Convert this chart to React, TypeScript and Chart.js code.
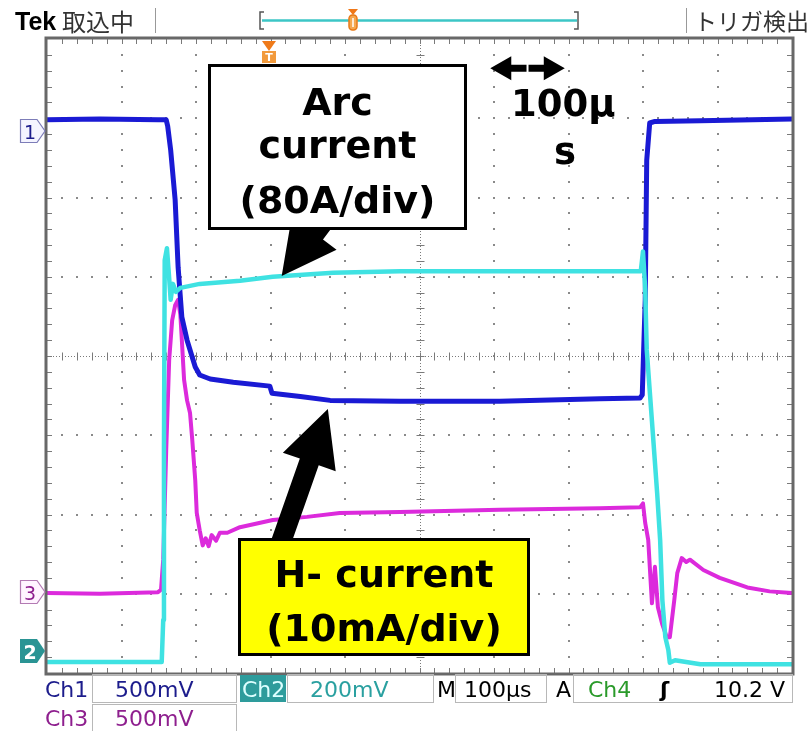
import React, { useEffect, useRef } from "react";
import { Chart, registerables } from "chart.js";

Chart.register(...registerables);

// Time axis: µs from the left edge of the screen (10 div × 100 µs/div).
// Values: vertical divisions from the screen centre (8 div high).

// Ch1 (blue)
const ch1Time = [0, 71, 149, 160, 162, 166, 172, 176, 181, 188, 199, 205, 219, 250, 299, 302, 340, 380, 474, 608, 742, 796, 799, 803, 805, 809, 816, 877, 1000];
const ch1Div = [2.98, 2.99, 2.98, 2.98, 2.9, 2.6, 1.97, 1.12, 0.49, 0.2, -0.14, -0.24, -0.29, -0.33, -0.38, -0.47, -0.51, -0.56, -0.57, -0.57, -0.54, -0.53, -0.49, 0.71, 2.47, 2.94, 2.96, 2.97, 2.99];

// Ch2 (cyan) – arc current
const ch2Time = [0, 154, 156, 157, 158, 161, 164, 166, 169, 173, 179, 205, 259, 303, 384, 474, 608, 742, 797, 800, 803, 805, 812, 819, 823, 826, 830, 834, 836, 843, 877, 1000];
const ch2Div = [-3.86, -3.86, -3.33, -1.19, 1.21, 1.36, 0.98, 0.71, 0.91, 0.81, 0.86, 0.91, 0.95, 1.0, 1.05, 1.07, 1.07, 1.07, 1.07, 1.32, 0.83, 0.08, -0.82, -1.73, -2.32, -3.08, -3.55, -3.71, -3.87, -3.84, -3.89, -3.89];

// Ch3 (magenta) – H- current
const ch3Time = [0, 71, 149, 153, 156, 160, 164, 168, 172, 176, 179, 181, 184, 188, 192, 195, 199, 201, 205, 209, 213, 217, 221, 227, 232, 242, 259, 303, 349, 393, 474, 608, 742, 796, 800, 803, 807, 812, 816, 820, 826, 832, 836, 842, 846, 852, 858, 863, 881, 903, 940, 970, 1000];
const ch3Div = [-2.99, -3.0, -2.98, -2.95, -2.57, -1.19, -0.05, 0.45, 0.64, 0.71, 0.52, 0.2, -0.3, -0.56, -0.72, -1.06, -1.57, -1.98, -2.2, -2.39, -2.3, -2.4, -2.26, -2.33, -2.23, -2.23, -2.16, -2.07, -2.03, -1.98, -1.97, -1.94, -1.92, -1.91, -1.86, -2.11, -2.32, -3.12, -2.66, -3.17, -3.39, -3.55, -3.55, -3.08, -2.74, -2.55, -2.6, -2.57, -2.7, -2.8, -2.92, -2.97, -2.99];

// Screen extent
const timeRangeUs = [0, 1000];
const divRange = [-4, 4];

// Annotation anchors (µs, div)
const arcArrowTail = [372, 1.72];
const arcArrowTip = [315, 1.01];
const hArrowTail = [313, -2.38];
const hArrowTip = [377, -0.67];
const scaleBarUs = [595, 695];
const scaleBarDiv = 3.63;

const pts = (t: number[], v: number[]) => t.map((x, i) => ({ x, y: v[i] }));

function arrow(ctx: CanvasRenderingContext2D, x0: number, y0: number, x1: number, y1: number, shaftW: number, headL: number, headHW: number) {
  const dx = x1 - x0, dy = y1 - y0, len = Math.hypot(dx, dy);
  const ux = dx / len, uy = dy / len, px = -uy, py = ux;
  const bx = x1 - ux * headL, by = y1 - uy * headL;
  ctx.beginPath();
  ctx.moveTo(x0 + px * shaftW / 2, y0 + py * shaftW / 2);
  ctx.lineTo(bx + px * shaftW / 2, by + py * shaftW / 2);
  ctx.lineTo(bx + px * headHW, by + py * headHW);
  ctx.lineTo(x1, y1);
  ctx.lineTo(bx - px * headHW, by - py * headHW);
  ctx.lineTo(bx - px * shaftW / 2, by - py * shaftW / 2);
  ctx.lineTo(x0 - px * shaftW / 2, y0 - py * shaftW / 2);
  ctx.closePath();
  ctx.fill();
}

const scopePlugin = {
  id: "scope",
  beforeDatasetsDraw(chart: any) {
    const { ctx, chartArea: a, scales } = chart;
    const xs = scales.x, ys = scales.y;
    ctx.save();
    ctx.fillStyle = "#8a8a8a";
    for (let i = 1; i < 10; i++) {
      if (i === 5) continue;
      const px = Math.round(xs.getPixelForValue(i * 100));
      for (let k = 1; k < 40; k++) {
        const py = Math.round(ys.getPixelForValue(-4 + k * 0.2));
        ctx.fillRect(px - 1, py - 1, 2, 2);
      }
    }
    for (let j = -3; j <= 3; j++) {
      if (j === 0) continue;
      const py = Math.round(ys.getPixelForValue(j));
      for (let k = 1; k < 50; k++) {
        const px = Math.round(xs.getPixelForValue(k * 20));
        ctx.fillRect(px - 1, py - 1, 2, 2);
      }
    }
    const cx = Math.round(xs.getPixelForValue(500)) + 0.5;
    const cy = Math.round(ys.getPixelForValue(0)) + 0.5;
    ctx.strokeStyle = "#7a7a7a";
    ctx.lineWidth = 1;
    ctx.setLineDash([1, 2]);
    ctx.beginPath();
    ctx.moveTo(a.left, cy);
    ctx.lineTo(a.right, cy);
    ctx.moveTo(cx, a.top);
    ctx.lineTo(cx, a.bottom);
    ctx.stroke();
    ctx.setLineDash([]);
    ctx.beginPath();
    for (let k = 1; k < 50; k++) {
      const px = Math.round(xs.getPixelForValue(k * 20)) + 0.5;
      ctx.moveTo(px, cy - 4);
      ctx.lineTo(px, cy + 4);
      ctx.moveTo(px, a.top);
      ctx.lineTo(px, a.top + 5);
      ctx.moveTo(px, a.bottom);
      ctx.lineTo(px, a.bottom - 5);
    }
    for (let k = 1; k < 40; k++) {
      const py = Math.round(ys.getPixelForValue(-4 + k * 0.2)) + 0.5;
      ctx.moveTo(cx - 4, py);
      ctx.lineTo(cx + 4, py);
      ctx.moveTo(a.left, py);
      ctx.lineTo(a.left + 5, py);
      ctx.moveTo(a.right, py);
      ctx.lineTo(a.right - 5, py);
    }
    ctx.stroke();
    ctx.restore();
  },
  afterDatasetsDraw(chart: any) {
    const { ctx, chartArea: a, scales } = chart;
    const xs = scales.x, ys = scales.y;
    ctx.save();
    ctx.strokeStyle = "#686868";
    ctx.lineWidth = 3;
    ctx.strokeRect(a.left - 1, a.top - 1, a.right - a.left + 2, a.bottom - a.top + 2);
    ctx.fillStyle = "#000";
    arrow(ctx, xs.getPixelForValue(arcArrowTail[0]), ys.getPixelForValue(arcArrowTail[1]), xs.getPixelForValue(arcArrowTip[0]), ys.getPixelForValue(arcArrowTip[1]), 22, 54, 28);
    arrow(ctx, xs.getPixelForValue(hArrowTail[0]), ys.getPixelForValue(hArrowTail[1]), xs.getPixelForValue(hArrowTip[0]), ys.getPixelForValue(hArrowTip[1]), 20, 56, 28);
    const bx0 = xs.getPixelForValue(scaleBarUs[0]);
    const bx1 = xs.getPixelForValue(scaleBarUs[1]);
    const by = ys.getPixelForValue(scaleBarDiv);
    const mid = (bx0 + bx1) / 2;
    arrow(ctx, mid + 1, by, bx1, by, 7, 21, 12);
    arrow(ctx, mid - 1, by, bx0, by, 7, 21, 12);
    ctx.restore();
  },
};

const T = (p: { l: number; t: number; s: number; c?: string; w?: number | string; f?: string; children: any; style?: any }) => (
  <div
    style={{
      position: "absolute",
      left: p.l,
      top: p.t,
      fontSize: p.s,
      lineHeight: p.s + "px",
      color: p.c || "#000",
      fontWeight: (p.w as any) || 400,
      fontFamily: p.f || "'DejaVu Sans', sans-serif",
      whiteSpace: "nowrap",
      ...(p.style || {}),
    }}
  >
    {p.children}
  </div>
);

const Box = (p: { l: number; t: number; w: number; h: number; bg?: string; b?: string }) => (
  <div
    style={{
      position: "absolute",
      left: p.l,
      top: p.t,
      width: p.w,
      height: p.h,
      boxSizing: "border-box",
      border: p.b || "1px solid #b8b8b8",
      background: p.bg || "transparent",
    }}
  />
);

export default function App() {
  const ref = useRef<HTMLCanvasElement>(null);
  useEffect(() => {
    const chart = new Chart(ref.current as HTMLCanvasElement, {
      type: "line",
      data: {
        datasets: [
          { label: "Ch2", data: pts(ch2Time, ch2Div), borderColor: "#3fe2e2", borderWidth: 4.5 },
          { label: "Ch1", data: pts(ch1Time, ch1Div), borderColor: "#1a1ad4", borderWidth: 5 },
          { label: "Ch3", data: pts(ch3Time, ch3Div), borderColor: "#dc2adc", borderWidth: 4 },
        ],
      },
      options: {
        animation: false,
        responsive: false,
        devicePixelRatio: 1,
        layout: { padding: { left: 47, top: 39, right: 18, bottom: 58 } },
        plugins: { legend: { display: false }, tooltip: { enabled: false } },
        elements: { point: { radius: 0 }, line: { tension: 0, borderJoinStyle: "round", borderCapStyle: "round" } },
        scales: {
          x: { type: "linear", min: timeRangeUs[0], max: timeRangeUs[1], display: false },
          y: { type: "linear", min: divRange[0], max: divRange[1], display: false },
        },
      } as any,
      plugins: [scopePlugin as any],
    });
    return () => chart.destroy();
  }, []);

  const bold = "'DejaVu Sans', sans-serif";
  return (
    <div style={{ position: "absolute", left: 0, top: 0, width: 810, height: 731, background: "#fff", overflow: "hidden" }}>
      <canvas ref={ref} width={810} height={731} style={{ position: "absolute", left: 0, top: 0, width: 810, height: 731 }} />

      <svg width={810} height={731} style={{ position: "absolute", left: 0, top: 0 }}>
        {/* header decorations */}
        <line x1={155.5} y1={8} x2={155.5} y2={33} stroke="#999" strokeWidth={1} />
        <line x1={686.5} y1={8} x2={686.5} y2={33} stroke="#999" strokeWidth={1} />
        <path d="M264 12 H260 V29 H264" fill="none" stroke="#555" strokeWidth={1.5} />
        <path d="M574 12 H578 V29 H574" fill="none" stroke="#555" strokeWidth={1.5} />
        <line x1={262} y1={20.5} x2={577} y2={20.5} stroke="#3cc6c6" strokeWidth={2.5} />
        <polygon points="348,9 358,9 353,15" fill="#f07818" />
        <rect x={349} y={15} width={8} height={15} rx={3.5} fill="#f5a850" stroke="#e87a18" strokeWidth={1.5} />
        <line x1={353} y1={18} x2={353} y2={27} stroke="#fff" strokeWidth={1.5} />
        {/* trigger position marker */}
        <polygon points="262,41 276,41 269,51" fill="#ef7a1a" />
        <rect x={262} y={51} width={14} height={12} fill="#f29a3c" />
        <text x={269} y={61} fontSize={11} fontWeight={700} fill="#fff" textAnchor="middle" fontFamily="'DejaVu Sans', sans-serif">T</text>
        {/* channel ground markers */}
        <polygon points="20.5,119.5 37,119.5 45,131 37,142.5 20.5,142.5" fill="#f4f4ff" stroke="#7d7db8" strokeWidth={1.2} />
        <text x={30} y={139} fontSize={19} fill="#1c1c8c" textAnchor="middle" fontFamily="'DejaVu Sans', sans-serif">1</text>
        <polygon points="20.5,580.5 37,580.5 45,592 37,603.5 20.5,603.5" fill="#fff4ff" stroke="#b37ab3" strokeWidth={1.2} />
        <text x={30} y={600} fontSize={19} fill="#8e1f8e" textAnchor="middle" fontFamily="'DejaVu Sans', sans-serif">3</text>
        <polygon points="20,639 37,639 45,651 37,663 20,663" fill="#2a9494" />
        <text x={30} y={659} fontSize={19} fontWeight={700} fill="#fff" textAnchor="middle" fontFamily="'DejaVu Sans', sans-serif">2</text>
      </svg>

      {/* header */}
      <T l={15} t={9} s={25} w={700} f="'Liberation Sans', Arial, sans-serif">Tek</T>
      <T l={62} t={9} s={24} c="#333" f="'Noto Sans CJK JP', sans-serif">取込中</T>
      <T l={694} t={9} s={23} c="#333" f="'Noto Sans CJK JP', sans-serif">トリガ検出</T>

      {/* Arc current callout */}
      <Box l={208} t={64} w={259} h={166} bg="#fff" b="3px solid #000" />
      <T l={208} t={83} s={38} w={700} f={bold} style={{ width: 259, textAlign: "center" }}>Arc</T>
      <T l={208} t={126} s={38} w={700} f={bold} style={{ width: 259, textAlign: "center" }}>current</T>
      <T l={208} t={181} s={38} w={700} f={bold} style={{ width: 259, textAlign: "center" }}>(80A/div)</T>

      {/* time scale label */}
      <T l={511} t={85} s={37} w={700} f={bold}>100μ</T>
      <T l={545} t={133} s={37} w={700} f={bold} style={{ width: 40, textAlign: "center" }}>s</T>

      {/* H- current callout */}
      <Box l={238} t={538} w={292} h={118} bg="#ffff00" b="3px solid #000" />
      <T l={238} t={555} s={38} w={700} f={bold} style={{ width: 292, textAlign: "center" }}>H- current</T>
      <T l={238} t={609} s={38} w={700} f={bold} style={{ width: 292, textAlign: "center" }}>(10mA/div)</T>

      {/* footer */}
      <T l={45} t={679} s={22} c="#1c1c8c">Ch1</T>
      <Box l={92} t={674} w={145} h={29} />
      <T l={115} t={679} s={22} c="#1c1c8c">500mV</T>
      <Box l={240} t={675} w={46} h={27} bg="#2e9c9c" b="none" />
      <T l={242} t={679} s={22} c="#dcffff">Ch2</T>
      <Box l={287} t={674} w={147} h={29} />
      <T l={310} t={679} s={22} c="#2aa0a0">200mV</T>
      <T l={437} t={679} s={22}>M</T>
      <Box l={455} t={674} w={92} h={29} />
      <T l={464} t={679} s={22}>100μs</T>
      <T l={556} t={679} s={22}>A</T>
      <Box l={573} t={674} w={220} h={29} />
      <T l={588} t={679} s={22} c="#2a9a2a">Ch4</T>
      <T l={660} t={679} s={22} w={700}>ʃ</T>
      <T l={714} t={679} s={22}>10.2 V</T>
      <T l={45} t={708} s={22} c="#8e1f8e">Ch3</T>
      <Box l={92} t={704} w={145} h={30} />
      <T l={115} t={708} s={22} c="#8e1f8e">500mV</T>
    </div>
  );
}
